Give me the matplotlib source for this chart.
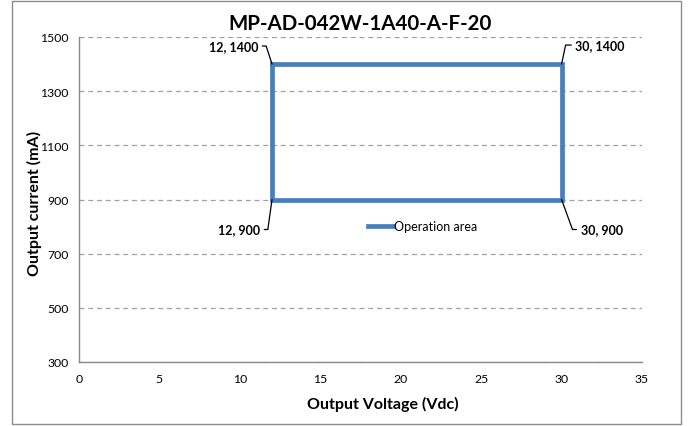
import matplotlib
matplotlib.use("Agg")
import matplotlib.pyplot as plt
from matplotlib.patches import Rectangle

plt.rcParams['font.family'] = ['Lato', 'DejaVu Sans']

voltage = [12, 30, 30, 12, 12]
current = [1400, 1400, 900, 900, 1400]
series_name = "Operation area"
title = "MP-AD-042W-1A40-A-F-20"
x_ticks = [0, 5, 10, 15, 20, 25, 30, 35]
y_ticks = [300, 500, 700, 900, 1100, 1300, 1500]
labels = [(12, 1400, "12, 1400"), (30, 1400, "30, 1400"),
          (12, 900, "12, 900"), (30, 900, "30, 900")]

fig = plt.figure(figsize=(6.89, 4.27), dpi=100)
ax = fig.add_axes([79/689, 1-363/427, (642-79)/689, (363-38)/427])

line_color = "#4a7ebb"
ax.plot(voltage, current, color=line_color, lw=3.4, solid_joinstyle='miter',
        label=series_name, zorder=3)

ax.set_xlim(0, 35)
ax.set_ylim(300, 1500)
ax.set_xticks(x_ticks)
ax.set_yticks(y_ticks)
ax.tick_params(length=0, labelsize=8.8, colors="#000000")
ax.tick_params(axis='y', pad=7.5)
ax.tick_params(axis='x', pad=8)
ax.grid(axis='y', color="#a0a0a0", linestyle=(0, (4, 3)), lw=0.9)
for s in ['top', 'right']:
    ax.spines[s].set_visible(False)
for s in ['left', 'bottom']:
    ax.spines[s].set_color("#898989")
    ax.spines[s].set_linewidth(1)

ax.set_title(title, fontsize=14.8, fontweight='bold', pad=6)
ax.set_xlabel("Output Voltage (Vdc)", fontsize=11.5, fontweight='bold')
ax.set_ylabel("Output current (mA)", fontsize=11.5, fontweight='bold')
ax.xaxis.set_label_coords(0.54, -0.105)
ax.yaxis.set_label_coords(-0.066, 0.49)

# (offset points, ha, relpos, angleB)
offsets = {
    "12, 1400": ((-10, 13), 'right', (1, 0.5), 108),
    "30, 1400": ((10, 13.7), 'left', (0, 0.5), 78),
    "12, 900": ((-8.6, -21.6), 'right', (1, 0.5), 82),
    "30, 900": ((13.7, -21.6), 'left', (0, 0.5), -70),
}
for x, y, t in labels:
    off, ha, rp, angB = offsets[t]
    ax.annotate(t, xy=(x, y), xytext=off, textcoords='offset points',
                ha=ha, va='center', fontsize=9, fontweight='bold',
                arrowprops=dict(arrowstyle='-', color='black', lw=0.9,
                                shrinkA=1, shrinkB=0, relpos=rp,
                                connectionstyle=f"angle,angleA=0,angleB={angB},rad=0"))

leg = ax.legend(loc='center', bbox_to_anchor=(0.61, 0.418), frameon=False,
                fontsize=9, handlelength=2.0, handletextpad=0.1)

fig.patches.append(Rectangle((12/689, 2/427), (681-12)/689, (425-2)/427,
                             transform=fig.transFigure, fill=False,
                             edgecolor="#8c8c8c", lw=1))

fig.savefig("out.png", dpi=100)
